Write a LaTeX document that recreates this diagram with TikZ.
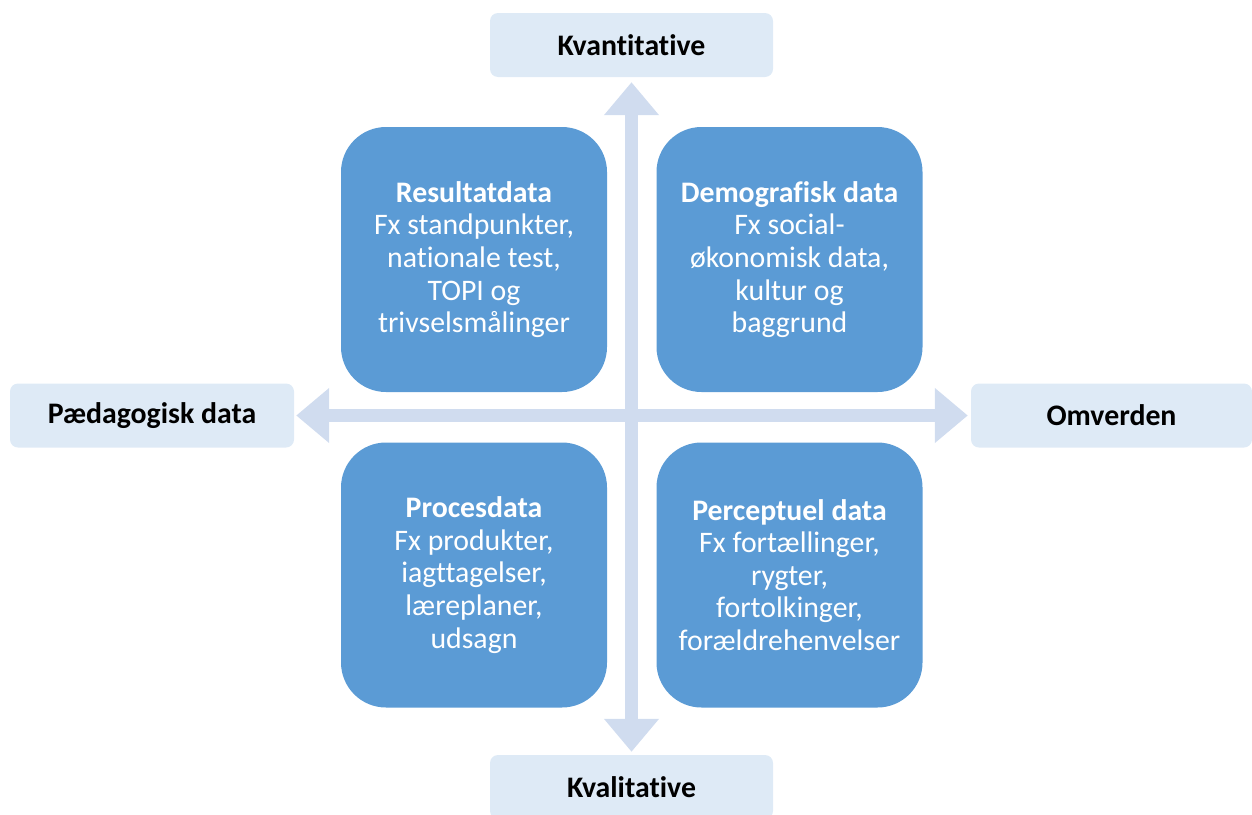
\documentclass[tikz,border=0pt]{standalone}
\usepackage{fontspec}
\setmainfont[Ligatures={NoCommon}]{Carlito}
\usetikzlibrary{arrows.meta}
\definecolor{quad}{HTML}{5B9BD5}
\definecolor{lbox}{HTML}{DEEAF6}
\definecolor{arr}{HTML}{D0DCEF}
\begin{document}
\begin{tikzpicture}[x=1pt,y=-1pt,
 quadbox/.style={fill=quad, rounded corners=45pt, minimum width=266pt, minimum height=265pt, inner sep=0pt, text=white, align=center, font=\fontsize{29.8}{32.6}\selectfont},
 labelbox/.style={fill=lbox, rounded corners=8pt, minimum width=283pt, minimum height=64pt, inner sep=0pt, font=\fontsize{29.8}{32}\selectfont\bfseries},
 axis/.style={draw=arr, line width=13pt, {Triangle[length=33pt,width=53pt]}-{Triangle[length=33pt,width=53pt]}}]
\useasboundingbox (0,0) rectangle (1252,814);
\node[labelbox] (kvant) at (631.5,45) {Kvantitative};
\node[labelbox] (kval) at (631.5,787) {Kvalitative};
\node[labelbox, minimum width=284pt] (paed) at (152,415.5) {Pædagogisk data};
\node[labelbox, minimum width=281pt] (omv) at (1111.5,415.5) {Omverden};
\draw[axis, shorten <=5pt, shorten >=3pt] (kvant) -- (kval);
\draw[axis, shorten <=2pt, shorten >=3pt] (paed) -- (omv);
\node[quadbox] (res) at (474,259.5) {\textbf{Resultatdata}\\Fx standpunkter,\\nationale test,\\TOPI og\\trivselsmålinger};
\node[quadbox] (dem) at (789.5,259.5) {\textbf{Demografisk data}\\Fx social-\\økonomisk data,\\kultur og\\baggrund};
\node[quadbox] (pro) at (474,575) {\textbf{Procesdata}\\Fx produkter,\\iagttagelser,\\læreplaner,\\udsagn};
\node[quadbox] (per) at (789.5,575) {\textbf{Perceptuel data}\\Fx fortællinger,\\rygter,\\fortolkinger,\\forældrehenvelser};
\end{tikzpicture}
\end{document}
